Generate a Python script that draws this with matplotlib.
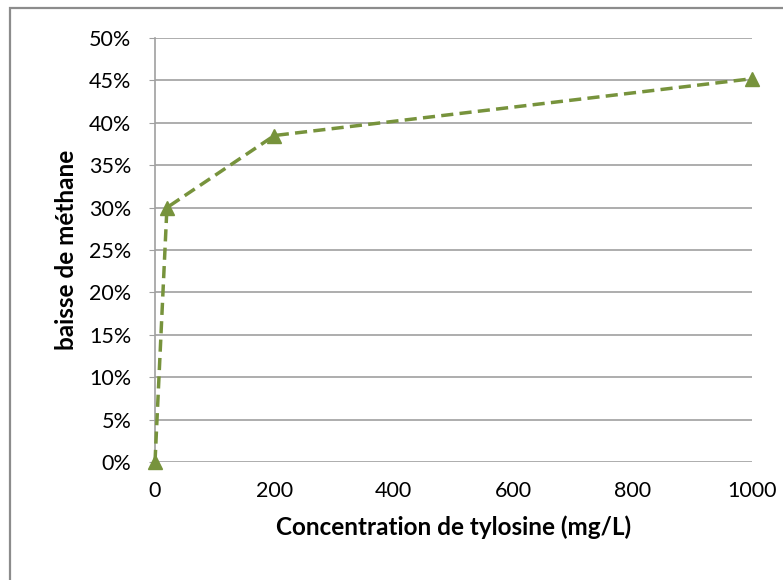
import matplotlib
matplotlib.use("Agg")
import matplotlib.pyplot as plt
from matplotlib.patches import Rectangle
from matplotlib.ticker import FuncFormatter

# Données
concentration = [0, 20, 200, 1000]          # mg/L
baisse_methane = [0.0, 0.30, 0.385, 0.452]  # fraction

x_ticks = [0, 200, 400, 600, 800, 1000]
y_ticks = [i / 100 for i in range(0, 55, 5)]

plt.rcParams['font.family'] = ['Lato', 'DejaVu Sans']

fig = plt.figure(figsize=(7.83, 5.8), dpi=100)
ax = fig.add_axes([155 / 783, 118 / 580, 597 / 783, 424 / 580])

# cadre extérieur du graphique
fig.patches.append(Rectangle((10 / 783, -0.05), 1.2, (572 / 580) + 0.05,
                             transform=fig.transFigure, fill=False,
                             edgecolor='#8c8c8c', linewidth=1.6))

ax.plot(concentration, baisse_methane, color='#77933C', linestyle=(0, (3.5, 1.8)),
        linewidth=2.5, marker='^', markersize=10, clip_on=False, zorder=3)

ax.set_xlim(0, 1000)
ax.set_ylim(0, 0.5)
ax.set_xticks(x_ticks)
ax.set_yticks(y_ticks)
ax.yaxis.set_major_formatter(FuncFormatter(lambda v, p: f"{v * 100:.0f}%"))
ax.grid(axis='y', color='#a0a0a0', linewidth=1.2)
ax.set_axisbelow(True)

for s in ['top', 'right', 'bottom']:
    ax.spines[s].set_visible(False)
ax.spines['left'].set_color('#a0a0a0')
ax.spines['left'].set_linewidth(1.2)
ax.tick_params(axis='y', length=4, color='#a0a0a0', labelsize=15.5, pad=13)
ax.tick_params(axis='x', length=0, labelsize=15.5, pad=14)

ax.set_xlabel('Concentration de tylosine (mg/L)', fontsize=17.5, fontweight='bold', labelpad=10)
ax.set_ylabel('baisse de méthane', fontsize=17.5, fontweight='bold', labelpad=8)

fig.savefig('out.png', dpi=100)
